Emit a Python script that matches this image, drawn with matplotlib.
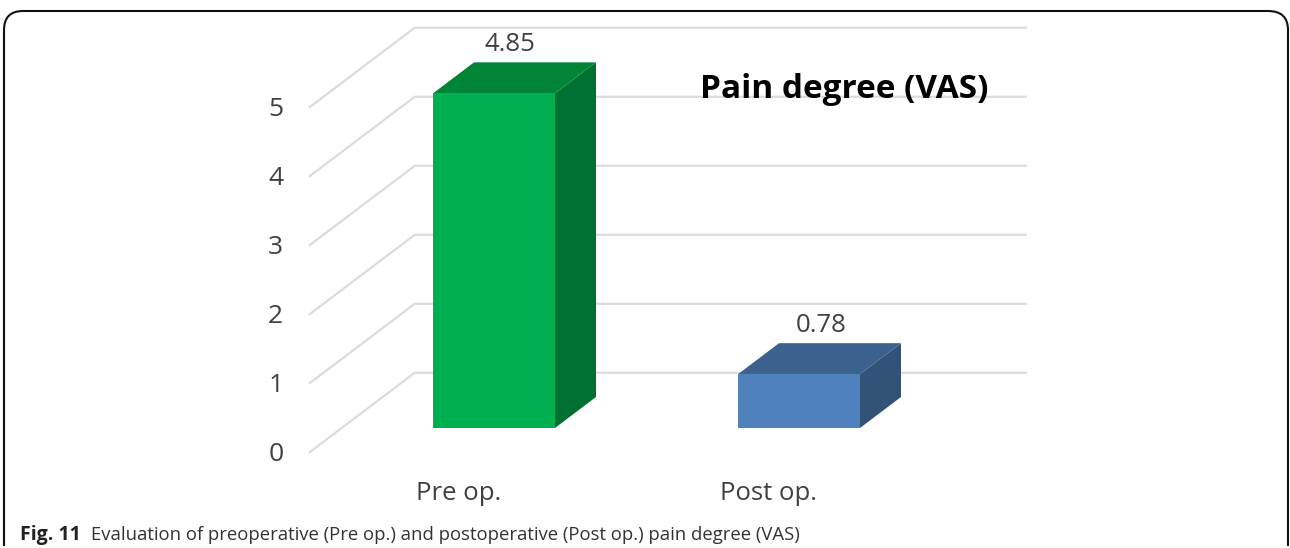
import matplotlib
matplotlib.use('Agg')
import matplotlib.pyplot as plt
from matplotlib.patches import Polygon, PathPatch
from matplotlib.path import Path

categories = ['Pre op.', 'Post op.']
values = [4.85, 0.78]
y_ticks = [0, 1, 2, 3, 4, 5]
title = 'Pain degree (VAS)'
caption_bold = 'Fig. 11'
caption = 'Evaluation of preoperative (Pre op.) and postoperative (Post op.) pain degree (VAS)'

front_colors = ['#00B050', '#4F81BD']
top_colors = ['#008537', '#3B618E']
side_colors = ['#007030', '#325277']
grid_color = '#DCDCDC'
text_color = '#404040'

W, H = 1290, 548
PX_X = 305.0   # pixels per category
PX_Y = 69.0    # pixels per value unit
X0, Y0 = 494.0, 427.0   # pixel position of first category, value 0
BAR_W = 122 / PX_X
DX, DY = 41 / PX_X, 31 / PX_Y   # oblique shift for one bar depth


def proj(x, v, d=0.0):
    # oblique projection, d is depth in bar depths
    return (x + d * DX, v + d * DY)


fig = plt.figure(figsize=(W / 100, H / 100), dpi=100)
ax = fig.add_axes([0, 0, 1, 1])
ax.set_xlim(-X0 / PX_X, (W - X0) / PX_X)
ax.set_ylim((Y0 - H) / PX_Y, Y0 / PX_Y)
ax.axis('off')

# Side wall and back wall grid
wall_front, wall_back = -0.81, 1.75
wall_right = (1026 - X0) / PX_X - wall_back * DX
wall_left = (343 - X0) / PX_X
for t in y_ticks:
    p0 = proj(wall_left, t, wall_front)
    p1 = proj(wall_left, t, wall_back)
    p2 = proj(wall_right, t, wall_back)
    ax.plot([p0[0], p1[0], p2[0]], [p0[1], p1[1], p2[1]], color=grid_color, lw=1.6,
            solid_joinstyle='miter', zorder=1)
    ax.text(p0[0] - 34 / PX_X, p0[1] - 2.5 / PX_Y, str(t), color=text_color, fontsize=19,
            family='Open Sans', ha='center', va='center')

# Bars, the picture has them sitting a pixel lower than the grid
base = -1 / PX_Y
for i, v in enumerate(values):
    l, r = i - BAR_W / 2, i + BAR_W / 2
    vt = v + base
    ax.add_patch(Polygon([proj(r, base), proj(r, base, 1), proj(r, vt, 1), proj(r, vt)],
                         color=side_colors[i], lw=0, zorder=2))
    ax.add_patch(Polygon([proj(l, vt), proj(r, vt), proj(r, vt, 1), proj(l, vt, 1)],
                         color=top_colors[i], lw=0, zorder=2))
    ax.add_patch(Polygon([(l, base), (r, base), (r, vt), (l, vt)],
                         color=front_colors[i], lw=0, zorder=3))
    top = proj(i, v, 1)
    ax.text(i + (16 + 6 * i) / PX_X, top[1] + (16.5 + 0.5 * i) / PX_Y, f'{v:.2f}', color=text_color,
            fontsize=18.5, family='Open Sans', ha='center', va='center', zorder=4)
    ax.text((459 + 309 * i - X0) / PX_X, (Y0 - 493) / PX_Y, categories[i], color=text_color,
            fontsize=18.5, family='Open Sans', ha='center', va='center')

fig.text(844 / W, 1 - 90 / H, title, color='black', fontsize=24, fontweight='bold',
         family='Open Sans', ha='center', va='center')

# Caption
fig.text(20 / W, 1 - 535 / H, caption_bold, color='#222222', fontsize=14,
         fontweight='bold', family='Open Sans', ha='left', va='center')
fig.text(91 / W, 1 - 535 / H, caption, color='#333333', fontsize=13.35,
         family='Open Sans', ha='left', va='center')


# Rounded frame, open at the bottom
def fp(x, y):
    return (x / W, 1 - y / H)


verts = [fp(4, 546), fp(4, 30), fp(4, 11), fp(23, 11), fp(1268, 11), fp(1288, 11),
         fp(1288, 30), fp(1288, 546)]
codes = [Path.MOVETO, Path.LINETO, Path.CURVE3, Path.CURVE3, Path.LINETO, Path.CURVE3,
         Path.CURVE3, Path.LINETO]
fig.add_artist(PathPatch(Path(verts, codes), fill=False, edgecolor='#111111', lw=1.5,
                         transform=fig.transFigure))

fig.savefig('out.png', dpi=100)
plt.close(fig)
